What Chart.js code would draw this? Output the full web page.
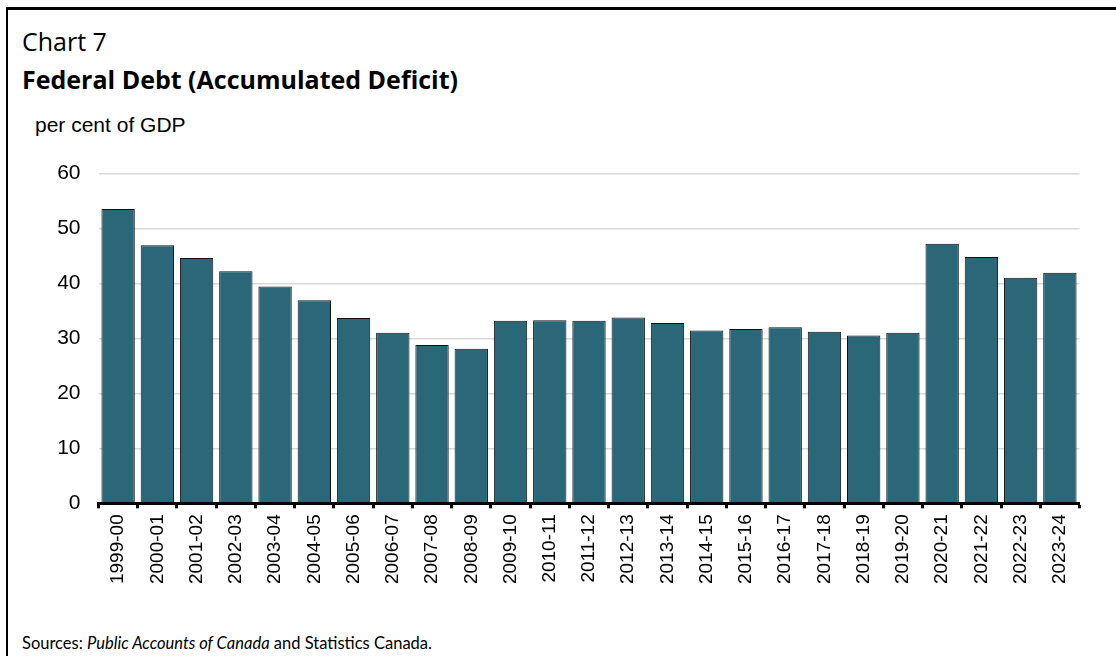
<!DOCTYPE html>
<html>
<head>
<meta charset="utf-8">
<script src="https://cdn.jsdelivr.net/npm/chart.js@4"></script>
<style>
  html, body { margin: 0; padding: 0; background: #fff; overflow: hidden; }
  #wrap { position: relative; width: 1116px; height: 656px; overflow: hidden; background: #fff; }
  #lineTop { position: absolute; left: 6px; top: 7px; width: 1110px; height: 3px; background: #000; }
  #lineLeft { position: absolute; left: 6px; top: 7px; width: 2px; height: 649px; background: #000; }
  .t { position: absolute; white-space: nowrap; color: #000; }
  #c1 { left: 22px; top: 24px; font: 25px "Open Sans", "Noto Sans", sans-serif; }
  #c2 { left: 22px; top: 62px; font: bold 25px "Open Sans", "Noto Sans", sans-serif; }
  #c3 { left: 35px; top: 113px; font: 21px "Liberation Sans", Arial, sans-serif; }
  #src { left: 22px; top: 633px; font: 16.5px Lato, "Open Sans", sans-serif; }
  canvas { position: absolute; left: 0; top: 0; }
</style>
</head>
<body>
<div id="wrap">
  <div id="lineTop"></div>
  <div id="lineLeft"></div>
  <div class="t" id="c1">Chart 7</div>
  <div class="t" id="c2">Federal Debt (Accumulated Deficit)</div>
  <div class="t" id="c3">per cent of GDP</div>
  <div class="t" id="src">Sources: <i>Public Accounts of Canada</i> and Statistics Canada.</div>
  <canvas id="chart" width="1116" height="656"></canvas>
</div>
<script>
const categories = ["1999-00","2000-01","2001-02","2002-03","2003-04","2004-05","2005-06","2006-07","2007-08","2008-09","2009-10","2010-11","2011-12","2012-13","2013-14","2014-15","2015-16","2016-17","2017-18","2018-19","2019-20","2020-21","2021-22","2022-23","2023-24"];
const debtPctGdp = [53.5, 46.9, 44.6, 42.2, 39.4, 36.9, 33.7, 31.0, 28.8, 28.1, 33.2, 33.3, 33.2, 33.8, 32.8, 31.4, 31.7, 32.0, 31.2, 30.5, 31.0, 47.2, 44.8, 41.0, 41.9];
const yTicks = [0, 10, 20, 30, 40, 50, 60];

new Chart(document.getElementById('chart'), {
  type: 'bar',
  data: {
    labels: categories,
    datasets: [{
      data: debtPctGdp,
      backgroundColor: '#2a6778',
      borderColor: '#111',
      borderWidth: 1,
      borderSkipped: 'bottom',
      categoryPercentage: 0.85,
      barPercentage: 1.0
    }]
  },
  options: {
    responsive: false,
    animation: false,
    events: [],
    layout: { padding: { left: 0, right: 36.5, top: 173.3, bottom: 52.7 } },
    plugins: { legend: { display: false }, tooltip: { enabled: false } },
    scales: {
      x: {
        offset: true,
        afterFit: (s) => { s.height = 100; },
        border: { display: true, color: '#000', width: 3, z: 1 },
        grid: { display: true, drawOnChartArea: false, drawTicks: true, tickLength: 5, color: '#000', tickWidth: 3, offset: true },
        ticks: {
          autoSkip: false, maxRotation: 90, minRotation: 90, padding: 6,
          color: '#000', font: { family: '"Liberation Sans", Arial, sans-serif', size: 19 }
        }
      },
      y: {
        min: 0, max: 60,
        afterFit: (s) => { s.width = 98.5; },
        afterBuildTicks: (s) => { s.ticks = yTicks.map(v => ({ value: v })); },
        border: { display: false },
        grid: { color: '#d9d9d9', lineWidth: 1.5, drawTicks: false },
        ticks: {
          padding: 18, color: '#000',
          font: { family: '"Liberation Sans", Arial, sans-serif', size: 21 }
        }
      }
    }
  }
});
</script>
</body>
</html>
